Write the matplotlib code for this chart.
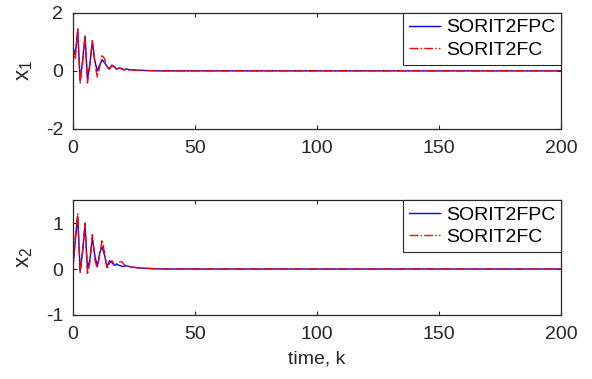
import matplotlib
matplotlib.use("Agg")
import matplotlib.pyplot as plt

plt.rcParams['font.family'] = ['Liberation Sans', 'DejaVu Sans']
plt.rcParams['mathtext.default'] = 'regular'
plt.rcParams['axes.unicode_minus'] = False

# time steps
k_x1 = [0, 1, 2, 3, 4, 5, 6, 7, 8, 9, 10, 11, 12, 13, 14, 15, 16, 17, 18, 19, 20,
        21, 22, 23, 24, 25, 26, 28, 30, 33, 36, 200]
x1_fpc = [0.8, 0.55, 1.4, -0.35, 0.35, 1.2, -0.3, 0.25, 1.0, 0.35, 0.0, 0.2, 0.38, 0.28,
          0.15, 0.08, 0.2, 0.14, 0.06, 0.1, 0.08, 0.04, 0.07, 0.04, 0.03, 0.04, 0.02,
          0.02, 0.01, 0.005, 0.0, 0.0]
x1_fc = [0.9, 0.4, 1.45, -0.42, 0.3, 1.2, -0.42, 0.2, 1.05, 0.3, -0.22, 0.15, 0.52, 0.42,
         0.12, 0.06, 0.18, 0.12, 0.05, 0.1, 0.07, 0.03, 0.06, 0.03, 0.02, 0.03, 0.02,
         0.015, 0.01, 0.005, 0.0, 0.0]

k_x2 = [0, 1, 2, 3, 4, 5, 6, 7, 8, 9, 10, 11, 12, 13, 14, 15, 16, 17, 18, 19, 20,
        21, 22, 24, 26, 28, 30, 34, 38, 200]
x2_fpc = [0.0, 0.6, 1.15, -0.05, 0.4, 0.95, 0.02, 0.2, 0.68, 0.3, 0.05, 0.35, 0.48, 0.3,
          0.05, 0.18, 0.14, 0.08, 0.1, 0.08, 0.06, 0.06, 0.07, 0.04, 0.03, 0.02, 0.015,
          0.005, 0.0, 0.0]
x2_fc = [0.0, 0.7, 1.2, -0.08, 0.35, 1.0, -0.12, 0.15, 0.75, 0.2, 0.02, 0.3, 0.64, 0.35,
         0.0, 0.12, 0.18, 0.1, 0.12, 0.15, 0.16, 0.1, 0.06, 0.05, 0.03, 0.02, 0.015,
         0.005, 0.0, 0.0]

labels = ['SORIT2FPC', 'SORIT2FC']
xticks = [0, 50, 100, 150, 200]

fig = plt.figure(figsize=(5.92, 3.79), dpi=100)
ax1 = fig.add_axes([0.123, 0.660, 0.825, 0.306])
ax2 = fig.add_axes([0.123, 0.169, 0.825, 0.303])

fs = 14
tc = '#262626'

def style(ax, ylim, yticks):
    ax.set_xlim(0, 200)
    ax.set_ylim(*ylim)
    ax.set_xticks(xticks)
    ax.set_yticks(yticks)
    ax.tick_params(direction='in', length=3, top=True, right=True, labelsize=fs,
                   width=0.8, colors=tc, labelcolor=tc)
    ax.tick_params(axis='x', pad=8)
    ax.tick_params(axis='y', pad=7)
    for s in ax.spines.values():
        s.set_linewidth(0.9)
        s.set_color(tc)

ax1.plot(k_x1, x1_fpc, color='#0000ff', lw=1.0, label=labels[0])
ax1.plot(k_x1, x1_fc, color='#ff0000', lw=1.0, ls='-.', label=labels[1])
style(ax1, (-2, 2), [-2, 0, 2])
ax1.set_ylabel('x$_1$', fontsize=16, color=tc, labelpad=8)

ax2.plot(k_x2, x2_fpc, color='#0000ff', lw=1.0, label=labels[0])
ax2.plot(k_x2, x2_fc, color='#ff0000', lw=1.0, ls='-.', label=labels[1])
style(ax2, (-1, 1.5), [-1, 0, 1])
ax2.set_ylabel('x$_2$', fontsize=16, color=tc, labelpad=8)
ax2.set_xlabel('time, k', fontsize=fs, color=tc, labelpad=5)

for ax in (ax1, ax2):
    leg = ax.legend(loc='upper right', fontsize=fs, frameon=True, fancybox=False,
                    edgecolor=tc, borderaxespad=0, handlelength=1.6,
                    handletextpad=0.3, borderpad=0.3, labelspacing=0.25,
                    framealpha=1)
    leg.get_frame().set_linewidth(0.8)

fig.savefig('out.png', dpi=100)
